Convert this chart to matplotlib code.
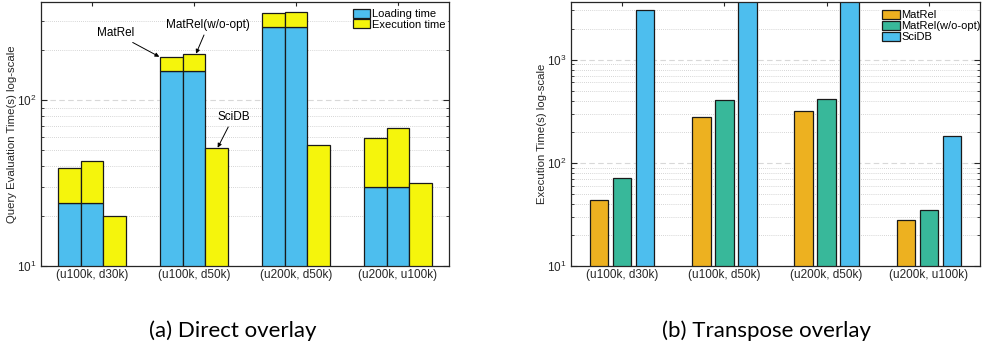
import matplotlib
matplotlib.use("Agg")
import matplotlib.pyplot as plt
from matplotlib.ticker import LogLocator, NullFormatter
import numpy as np

plt.rcParams['font.family'] = ['Liberation Sans', 'DejaVu Sans']

categories = ["(u100k, d30k)", "(u100k, d50k)", "(u200k, d50k)", "(u200k, u100k)"]

# (a) Direct overlay: loading time and total time (loading + execution)
matrel_load = [24.0, 149.0, 274.0, 29.9]
matrel_total = [38.8, 182.0, 334.0, 58.8]
woopt_load = [24.0, 149.0, 274.0, 29.9]
woopt_total = [42.9, 189.0, 339.0, 67.4]
scidb_load = [0.0, 0.0, 0.0, 0.0]
scidb_total = [20.0, 51.2, 53.6, 31.8]

# (b) Transpose overlay: execution time
t_matrel = [43.9, 275.0, 317.0, 27.9]
t_woopt = [71.7, 407.0, 416.0, 34.8]
t_scidb = [3055.0, 6000.0, 6000.0, 180.0]

BLUE = '#4DBEEE'
YELLOW = '#F5F50C'
ORANGE = '#EDB120'
GREEN = '#38B89A'

fig = plt.figure(figsize=(9.82, 3.5), dpi=100)
ax1 = fig.add_axes([41/982, 1-266/350, 408/982, 264/350])
ax2 = fig.add_axes([571/982, 1-266/350, 409/982, 264/350])

x = np.arange(1, len(categories) + 1)

def style(ax):
    ax.set_yscale('log')
    ax.set_xlim(0.5, 4.5)
    ax.set_xticks(x)
    ax.set_xticklabels(categories, fontsize=8.5, color='#262626')
    ax.tick_params(axis='both', which='both', direction='in', top=True, right=True, labelsize=8.5, colors='#262626')
    ax.tick_params(axis='x', which='major', length=3, labelsize=8.5, pad=2)
    ax.tick_params(axis='y', which='major', length=4, pad=3)
    ax.tick_params(axis='y', which='minor', length=2)
    ax.yaxis.set_minor_locator(LogLocator(base=10, subs=np.arange(2, 10)))
    ax.yaxis.set_minor_formatter(NullFormatter())
    ax.grid(True, which='major', axis='y', linestyle=(0, (5, 3)), color='#d8d8d8', linewidth=0.8)
    ax.grid(True, which='minor', axis='y', linestyle=(0, (1, 1.5)), color='#c8c8c8', linewidth=0.6)
    ax.set_axisbelow(True)
    for s in ax.spines.values():
        s.set_color('#262626')
        s.set_linewidth(0.9)
        s.set_zorder(6)

# ---- (a) ----
w = 0.22
ek = dict(edgecolor='#1a1a1a', linewidth=0.9)
for off, load, total in [(-w, matrel_load, matrel_total), (0, woopt_load, woopt_total), (w, scidb_load, scidb_total)]:
    load = np.array(load)
    total = np.array(total)
    lb = ax1.bar(x + off, load, w, color=BLUE, **ek)
    eb = ax1.bar(x + off, total - load, w, bottom=load, color=YELLOW, **ek)
    if off == -w:
        lb.set_label('Loading time')
        eb.set_label('Execution time')
style(ax1)
ax1.set_ylim(10, 389)
ax1.set_ylabel('Query Evaluation Time(s) log-scale', fontsize=8.2, color='#262626', labelpad=0)
lg = dict(loc='upper right', fontsize=8, frameon=True, edgecolor='white', fancybox=False,
          handlelength=1.55, handleheight=0.85, handletextpad=0.15, labelspacing=0.05,
          borderaxespad=0.4, borderpad=0.2)
ax1.legend(bbox_to_anchor=(1.007, 1.0), **lg)

ap = dict(arrowstyle='-|>', color='black', lw=0.7, mutation_scale=6, shrinkA=1, shrinkB=0)
ax1.annotate('MatRel', xy=(1.66, 182), xytext=(1.227, 253), fontsize=8.5, ha='center', va='center', arrowprops=ap)
ax1.annotate('MatRel(w/o-opt)', xy=(2.02, 190), xytext=(2.14, 283), fontsize=8.5, ha='center', va='center', arrowprops=ap)
ax1.annotate('SciDB', xy=(2.232, 51.6), xytext=(2.386, 79), fontsize=8.5, ha='center', va='center', arrowprops=ap)

# ---- (b) ----
w2 = 0.18
off2 = 0.225
ax2.bar(x - off2, t_matrel, w2, color=ORANGE, label='MatRel', **ek)
ax2.bar(x, t_woopt, w2, color=GREEN, label='MatRel(w/o-opt)', **ek)
ax2.bar(x + off2, t_scidb, w2, color=BLUE, label='SciDB', **ek)
style(ax2)
ax2.set_ylim(10, 3614)
ax2.set_ylabel('Execution Time(s) log-scale', fontsize=8.2, color='#262626', labelpad=0)
ax2.legend(bbox_to_anchor=(1.018, 0.995), **lg)

fig.text(233/982, 1-331/350, '(a) Direct overlay', fontsize=16, family='Lato', ha='center', va='center')
fig.text(766/982, 1-331/350, '(b) Transpose overlay', fontsize=16, family='Lato', ha='center', va='center')

fig.savefig('out.png', dpi=100)
